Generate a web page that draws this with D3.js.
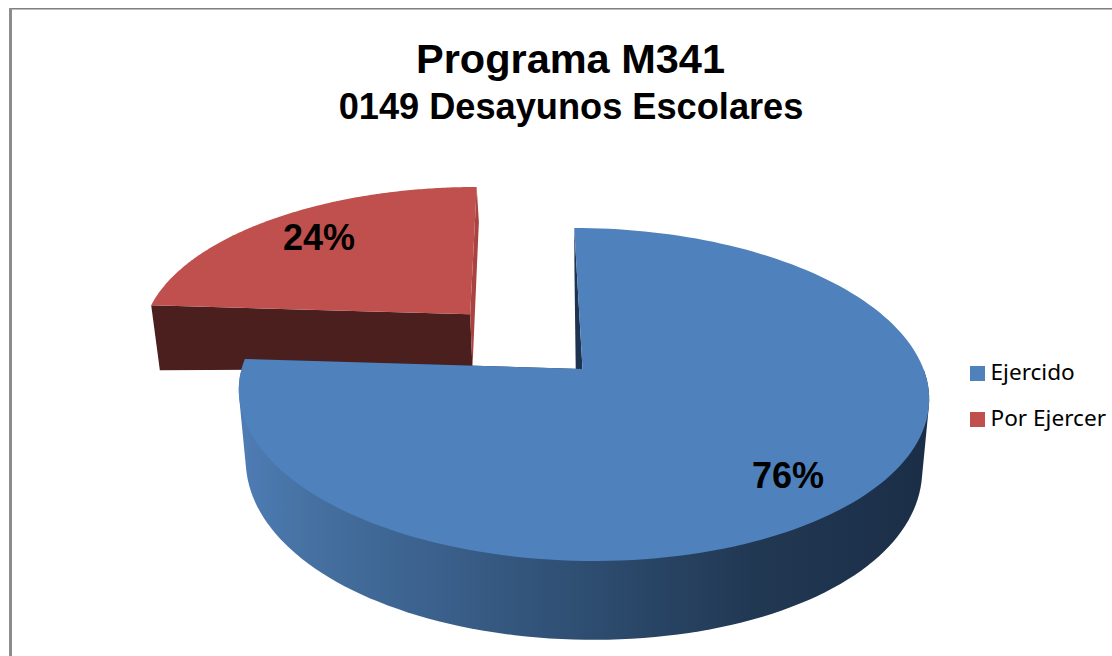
<!DOCTYPE html>
<html><head><meta charset="utf-8">
<style>html,body{margin:0;padding:0;background:#fff;overflow:hidden}svg{display:block}</style>
<script src="https://d3js.org/d3.v7.min.js"></script>
</head><body><svg id="c" width="1112" height="656"></svg>
<script>
const categories = ["Ejercido", "Por Ejercer"];
const values = [76, 24];
const colors = ["#4f81bd", "#c0504d"];
const titleText = "Programa M341";
const subtitleText = "0149 Desayunos Escolares";

const svg = d3.select("#c");
const W = 1112, H = 656;
svg.append("rect").attr("width", W).attr("height", H).attr("fill", "#fff");
// chart-area frame (cropped on the right and the bottom)
svg.append("rect").attr("x", 9).attr("y", 8).attr("width", W - 9).attr("height", 1).attr("fill", "#7f7f7f");
svg.append("rect").attr("x", 9).attr("y", 9).attr("width", W - 9).attr("height", 1).attr("fill", "#bdbdbd");
svg.append("rect").attr("x", 9).attr("y", 8).attr("width", 3).attr("height", H - 8).attr("fill", "#8c8c8c");

const defs = svg.append("defs");
const grad = defs.append("linearGradient").attr("id", "wall").attr("gradientUnits", "userSpaceOnUse")
  .attr("x1", 240).attr("x2", 925).attr("y1", 0).attr("y2", 0);
[[0, "#4e7cb4"], [0.12, "#446f9f"], [0.3, "#3a5f8a"], [0.52, "#2d4c6f"], [0.75, "#213853"], [1, "#1b2e48"]]
  .forEach(s => grad.append("stop").attr("offset", s[0]).attr("stop-color", s[1]));

// perspective projection of the unit pie disc onto the page
const P = {x0: 582.5, y0: 369, b: 341, a: 162.6, k: 0.153, s: 9.5};
const upper = (X, Y) => {
  const w = 1 - P.k * Y;
  return [P.x0 + (P.b * X + P.s * Y) / w, P.y0 + P.a * Y / w];
};
const lower = (X, Y) => {
  const t = upper(X, Y);
  return [583 + (t[0] - 583) * 0.98, t[1] + 60 + 18.9 * Y + 7.3 * X * X];
};
const pie = d3.pie().sort(null).value(d => d)(values);
const explode = [0, 0.5];
const slices = pie.map((d, i) => {
  const mid = (d.startAngle + d.endAngle) / 2;
  const ox = explode[i] * Math.sin(mid), oy = -explode[i] * Math.cos(mid);
  const pt = (a, r) => [ox + r * Math.sin(a), oy - r * Math.cos(a)];
  const n = 160;
  const rim = d3.range(n + 1).map(j => pt(d.startAngle + (d.endAngle - d.startAngle) * j / n, 1));
  return {i, mid, pt, rim, apex: [ox, oy], d};
});
const line = d3.line();
const P2 = f => p => f(p[0], p[1]);
const face = pts => line(pts) + "Z";

function drawSlice(s, startFill, endFill, wallFill, shift, apexLean) {
  const g = svg.append("g").attr("transform", `translate(${shift},${shift})`);
  const start = s.rim[0], end = s.rim[s.rim.length - 1];
  const la = lower(...s.apex);
  const apexLow = [la[0] + apexLean, la[1]];
  // radial walls
  g.append("path").attr("fill", startFill).attr("d",
    face([upper(...start), upper(...s.apex), apexLow, lower(...start)]));
  g.append("path").attr("fill", endFill).attr("d",
    face([upper(...end), upper(...s.apex), apexLow, lower(...end)]));
  // outer wall: silhouette of the front half of the rim, top and bottom edges
  if (wallFill) {
    const front = s.rim.filter(p => p[1] >= 0);
    const hull = d3.polygonHull(front.map(P2(upper)).concat(front.map(P2(lower))));
    g.append("path").attr("fill", wallFill).attr("d", face(hull));
  }
  // top surface
  g.append("path").attr("fill", colors[s.i]).attr("d",
    face([upper(...s.apex)].concat(s.rim.map(P2(upper)))));
}
drawSlice(slices[1], "#4b1f1d", "#a84340", null, 1.5, 0);
drawSlice(slices[0], "#1d3350", "#1d3350", "url(#wall)", 0, -6);

const F = "'Liberation Sans',Arial,sans-serif";
const txt = (x, y, t, size, weight, anchor, fam) => svg.append("text").attr("x", x).attr("y", y).text(t)
  .attr("font-size", size).attr("font-weight", weight).attr("text-anchor", anchor || "middle")
  .attr("font-family", fam || F).attr("fill", "#000");
txt(570.5, 72.5, titleText, 41.5, "bold");
txt(571, 119, subtitleText, 36.2, "bold");
const pctLabels = values.map(v => v + "%");
txt(788, 488, pctLabels[0], 36, "bold");
txt(319, 250, pctLabels[1], 36, "bold");

// legend
const legendY = d3.scalePoint().domain(categories).range([366, 412]);
categories.forEach((c, i) => {
  svg.append("rect").attr("x", 970).attr("y", legendY(c)).attr("width", 15).attr("height", 15).attr("fill", colors[i]);
  txt(990.5, legendY(c) + 14, c, 22.6, "normal", "start", "'Noto Sans',sans-serif");
});
</script></body></html>
